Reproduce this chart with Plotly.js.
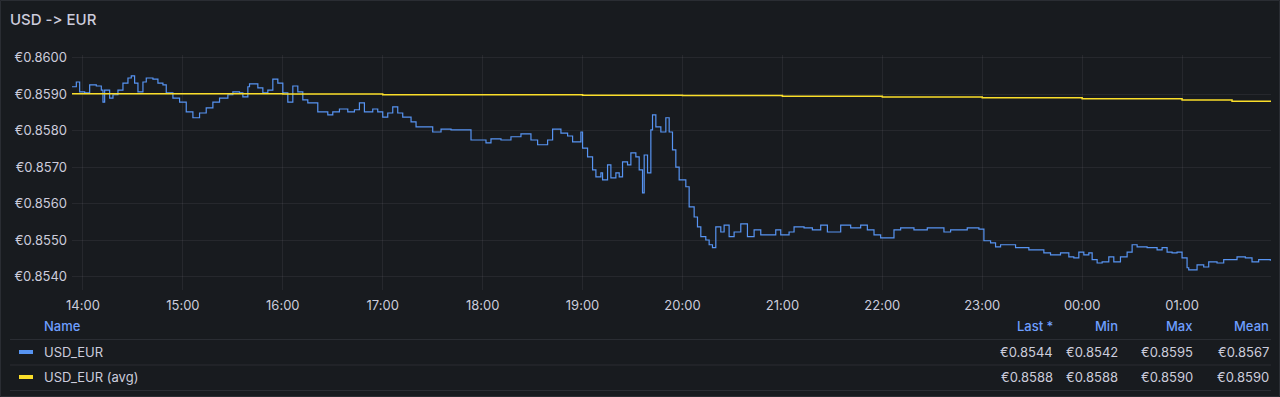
<!DOCTYPE html>
<html><head><meta charset="utf-8">
<script src="https://cdn.plot.ly/plotly-3.0.1.min.js"></script>
<style>html,body{margin:0;padding:0;background:#181b1f;overflow:hidden}#chart{width:1280px;height:397px}
#chart text{font-feature-settings:"calt" 0,"liga" 0;font-variant-ligatures:none}</style>
</head><body><div id="chart"></div>
<script>
// ---- data ----
const rateTimes = ['13:53','13:56','13:58','14:01','14:04','14:08','14:11','14:12','14:13','14:16','14:18','14:21','14:24','14:27','14:29','14:31','14:33','14:36','14:38','14:42','14:45','14:48','14:50','14:54','14:58',
'15:02','15:06','15:10','15:14','15:18','15:22','15:27','15:30','15:34','15:36','15:39','15:40','15:45','15:48','15:51','15:54','15:57',
'16:00','16:03','16:06','16:09','16:12','16:15','16:19','16:21','16:27','16:30','16:34','16:39','16:43','16:46','16:49','16:54','16:57',
'17:00','17:03','17:06','17:09','17:12','17:17','17:20','17:24','17:30','17:35','17:41','17:47','17:51','17:53','17:57',
'18:02','18:05','18:11','18:17','18:23','18:29','18:33','18:39','18:42','18:47','18:51','18:54','18:59',
'19:00','19:03','19:06','19:08','19:11','19:12','19:15','19:17','19:20','19:22','19:24','19:27','19:29','19:32','19:34','19:36','19:37','19:39','19:41','19:42','19:44','19:47','19:50','19:52','19:54','19:56','19:58',
'20:02','20:04','20:07','20:09','20:11','20:14','20:16','20:18','20:20','20:23','20:25','20:28','20:31','20:35','20:39','20:43','20:47','20:53','20:56','20:59',
'21:04','21:07','21:13','21:18','21:23','21:27','21:31','21:35','21:41','21:47','21:51','21:55','21:59',
'22:03','22:07','22:11','22:19','22:27','22:37','22:41','22:51','22:58',
'23:01','23:05','23:08','23:11','23:17','23:20','23:25','23:28','23:34','23:37','23:41','23:47','23:52','23:55','23:58',
'00:01','00:04','00:06','00:09','00:12','00:16','00:19','00:23','00:27','00:30','00:33','00:39','00:45','00:48','00:51','00:54','00:57',
'01:00','01:03','01:04','01:09','01:13','01:16','01:21','01:25','01:30','01:33','01:38','01:42','01:46','01:53'];
const rateValues = [0.85921,0.85934,0.85907,0.85904,0.85926,0.85923,0.85912,0.85879,0.85912,0.85890,0.85899,0.85912,0.85931,0.85945,0.85951,0.85931,0.85907,0.85934,0.85945,0.85942,0.85931,0.85926,0.85904,0.85890,0.85879,
0.85852,0.85836,0.85849,0.85863,0.85879,0.85890,0.85899,0.85907,0.85904,0.85893,0.85921,0.85929,0.85918,0.85904,0.85912,0.85942,0.85931,
0.85904,0.85879,0.85923,0.85907,0.85885,0.85877,0.85877,0.85852,0.85844,0.85852,0.85860,0.85852,0.85858,0.85877,0.85852,0.85860,0.85852,
0.85838,0.85849,0.85866,0.85849,0.85838,0.85825,0.85811,0.85811,0.85797,0.85805,0.85803,0.85803,0.85803,0.85775,0.85775,
0.85767,0.85778,0.85775,0.85784,0.85792,0.85775,0.85762,0.85775,0.85805,0.85794,0.85786,0.85770,0.85797,
0.85753,0.85729,0.85693,0.85674,0.85685,0.85666,0.85707,0.85671,0.85685,0.85674,0.85715,0.85707,0.85740,0.85729,0.85693,0.85630,0.85734,0.85685,0.85803,0.85844,0.85811,0.85797,0.85836,0.85797,0.85748,0.85701,0.85666,
0.85647,0.85592,0.85564,0.85537,0.85510,0.85501,0.85488,0.85480,0.85537,0.85523,0.85542,0.85510,0.85523,0.85545,0.85510,0.85529,0.85515,0.85515,0.85529,0.85515,
0.85523,0.85537,0.85534,0.85529,0.85542,0.85523,0.85523,0.85542,0.85534,0.85542,0.85529,0.85515,0.85507,
0.85507,0.85529,0.85534,0.85529,0.85534,0.85523,0.85529,0.85534,0.85531,
0.85499,0.85493,0.85482,0.85488,0.85488,0.85480,0.85480,0.85474,0.85474,0.85466,0.85460,0.85466,0.85455,0.85452,0.85468,
0.85460,0.85466,0.85447,0.85438,0.85441,0.85455,0.85441,0.85455,0.85468,0.85488,0.85482,0.85480,0.85474,0.85480,0.85468,0.85466,0.85468,
0.85452,0.85425,0.85419,0.85433,0.85427,0.85441,0.85438,0.85447,0.85447,0.85455,0.85452,0.85441,0.85447,0.85444];
const avgTimes = ['13:53','15:00','16:00','17:00','18:00','19:00','20:00','21:00','22:00','23:00','00:00','01:00','01:30','01:53'];
const avgValues = [0.85902,0.85902,0.85901,0.85899,0.85899,0.85898,0.85897,0.85895,0.85893,0.85891,0.85888,0.85885,0.85881,0.85879];
const seriesNames = ['USD_EUR','USD_EUR (avg)'];
const seriesColors = ['#5794f2','#fade2a'];
const statHeaders = ['Last *','Min','Max','Mean'];
const statRows = [['€0.8544','€0.8542','€0.8595','€0.8567'],['€0.8588','€0.8588','€0.8590','€0.8590']];
const yTicks = [0.854,0.855,0.856,0.857,0.858,0.859,0.860];
const xTickLabels = ['14:00','15:00','16:00','17:00','18:00','19:00','20:00','21:00','22:00','23:00','00:00','01:00'];
const chartTitle = 'USD -> EUR';

// ---- helpers ----
const stamp = t => (parseInt(t,10) >= 12 ? '2024-05-01 ' : '2024-05-02 ') + t + ':00';
const W = 1280, H = 397, L = 72, R = 1271, T = 55, B = 290;
const px = p => (p - L) / (R - L);
const py = p => (B - p) / (B - T);
const txt = '#ccccdc', font = 'Inter, "Open Sans", sans-serif';

const traces = [
  {x: rateTimes.map(stamp), y: rateValues, type: 'scatter', mode: 'lines', line: {color: seriesColors[0], width: 1.2, shape: 'hv'}, hoverinfo: 'skip'},
  {x: avgTimes.map(stamp), y: avgValues, type: 'scatter', mode: 'lines', line: {color: seriesColors[1], width: 1.5, shape: 'hv'}, hoverinfo: 'skip'}
];

const shapes = [];
const annotations = [];
[339.5, 365, 390.5].forEach(y => shapes.push({type: 'line', xref: 'paper', yref: 'paper', x0: px(10), x1: px(1271), y0: py(y), y1: py(y), line: {color: '#2a2d33', width: 1}}));
annotations.push({xref: 'paper', yref: 'paper', x: px(42), y: py(326), xanchor: 'left', yanchor: 'middle', text: 'Name', showarrow: false, font: {family: font, size: 13, color: '#6e9fff', weight: 500}});
const colRight = [1055, 1120, 1195, 1271];
statHeaders.forEach((h, i) => annotations.push({xref: 'paper', yref: 'paper', x: px(colRight[i]), y: py(326), xanchor: 'right', yanchor: 'middle', text: h, showarrow: false, font: {family: font, size: 13, color: '#6e9fff', weight: 500}}));
const rowY = [352, 377];
seriesNames.forEach((n, r) => {
  shapes.push({type: 'line', xref: 'paper', yref: 'paper', x0: px(19), x1: px(33), y0: py(rowY[r]), y1: py(rowY[r]), line: {color: seriesColors[r], width: 4}});
  annotations.push({xref: 'paper', yref: 'paper', x: px(42), y: py(rowY[r]), xanchor: 'left', yanchor: 'middle', text: n, showarrow: false, font: {family: font, size: 13, color: txt}});
  statRows[r].forEach((v, i) => annotations.push({xref: 'paper', yref: 'paper', x: px(colRight[i]), y: py(rowY[r]), xanchor: 'right', yanchor: 'middle', text: v, showarrow: false, font: {family: font, size: 13, color: txt}}));
});
shapes.push({type: 'rect', xref: 'paper', yref: 'paper', x0: px(0.5), x1: px(W - 0.5), y0: py(0.5), y1: py(H - 0.5), line: {color: '#2a2d33', width: 1}, fillcolor: 'rgba(0,0,0,0)', layer: 'below'});

const layout = {
  width: W, height: H,
  margin: {l: L, r: W - R, t: T, b: H - B, pad: 0},
  paper_bgcolor: '#181b1f', plot_bgcolor: '#181b1f',
  showlegend: false,
  font: {family: font, size: 13, color: txt},
  title: {text: chartTitle, xref: 'container', yref: 'container', x: 10 / W, xanchor: 'left', y: 1 - 20 / H, yanchor: 'middle', font: {family: font, size: 15, color: txt, weight: 500}},
  xaxis: {
    type: 'date', range: ['2024-05-01 13:53:24', '2024-05-02 01:53:24'],
    tickvals: xTickLabels.map(stamp), ticktext: xTickLabels,
    showgrid: true, gridcolor: 'rgba(204,204,220,0.08)', gridwidth: 1,
    zeroline: false, showline: false, ticks: '', ticklabelstandoff: 6,
    tickfont: {family: font, size: 13, color: txt}
  },
  yaxis: {
    range: [0.85364, 0.86008], tickvals: yTicks, ticktext: yTicks.map(v => '€' + v.toFixed(4)),
    showgrid: true, gridcolor: 'rgba(204,204,220,0.08)', gridwidth: 1,
    zeroline: false, showline: false, ticks: '', ticklabelstandoff: 4,
    tickfont: {family: font, size: 13, color: txt}
  },
  shapes: shapes, annotations: annotations
};
Plotly.newPlot('chart', traces, layout, {staticPlot: true, displayModeBar: false});
</script></body></html>
